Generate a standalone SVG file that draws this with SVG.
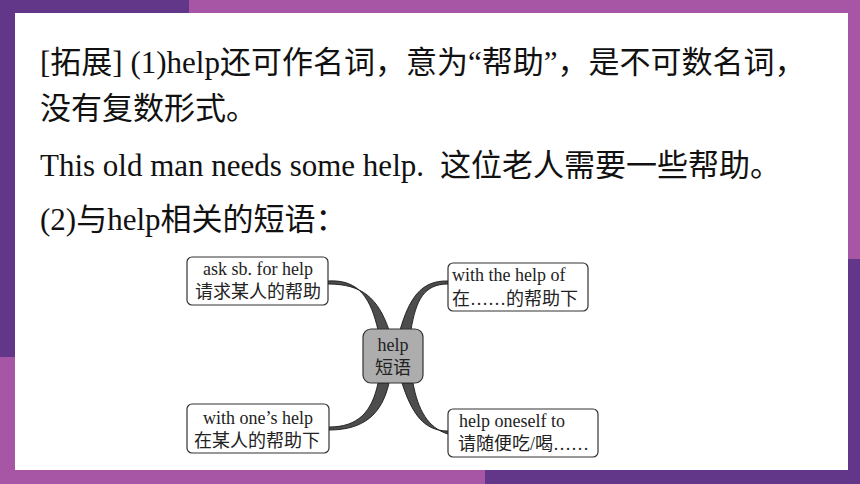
<svg xmlns="http://www.w3.org/2000/svg" width="860" height="484" viewBox="0 0 860 484">
<style>
.main{font-family:"Liberation Serif","Noto Sans CJK SC",serif;font-size:31px;fill:#111}
.box{fill:#fff;stroke:#333;stroke-width:1.2}
.lbl{font-family:"Liberation Serif","Noto Sans CJK SC",serif;font-size:18px;fill:#222}
.br{fill:#4d4d4d;stroke:#1a1a1a;stroke-width:0.9}
</style>
<rect x="0" y="0" width="860" height="484" fill="#fff"/>
<g id="frame">
<rect x="0" y="0" width="189" height="13" fill="#62378a"/>
<rect x="189" y="0" width="671" height="13" fill="#a756a6"/>
<rect x="0" y="0" width="15" height="357" fill="#62378a"/>
<rect x="0" y="357" width="15" height="127" fill="#a756a6"/>
<rect x="848" y="0" width="12" height="259" fill="#a756a6"/>
<rect x="848" y="259" width="12" height="225" fill="#62378a"/>
<rect x="0" y="470" width="485" height="14" fill="#a756a6"/>
<rect x="485" y="470" width="375" height="14" fill="#62378a"/>
</g>
<g id="text">
<text class="main" x="40" y="73">[拓展] (1)help还可作名词，意为“帮助”，是不可数名词，</text>
<text class="main" x="40" y="119">没有复数形式。</text>
<text class="main" x="40" y="176">This old man needs some help.</text>
<text class="main" x="440" y="176">这位老人需要一些帮助。</text>
<text class="main" x="40" y="230">(2)与help相关的短语：</text>
</g>
<g id="connectors">
<path class="br" d="M328,281 C360,279 371,300 378,330 L389,330 C378,298 362,284 328,284 Z"/>
<path class="br" d="M448,281 C420,280 409,300 400,330 L411,330 C416,300 424,284 448,284 Z"/>
<path class="br" d="M329,427 C358,427 372,412 378,383 L389,383 C382,414 364,430 329,430 Z"/>
<path class="br" d="M448,431 C424,431 412,414 402,383 L413,383 C418,410 428,428 448,434 Z"/>
</g>
<g id="center">
<rect x="363" y="329" width="60" height="54" rx="8" fill="#adadad" stroke="#333" stroke-width="1.2"/>
<text class="lbl" x="393" y="351" text-anchor="middle">help</text>
<text class="lbl" x="393" y="374" text-anchor="middle">短语</text>
</g>
<g id="n1">
<rect class="box" x="187" y="257" width="141" height="48" rx="5"/>
<text class="lbl" x="258" y="275" text-anchor="middle">ask sb. for help</text>
<text class="lbl" x="258" y="298" text-anchor="middle">请求某人的帮助</text>
</g>
<g id="n2">
<rect class="box" x="448" y="263" width="140" height="48" rx="5"/>
<text class="lbl" x="452" y="281">with the help of</text>
<text class="lbl" x="452" y="305">在……的帮助下</text>
</g>
<g id="n3">
<rect class="box" x="187" y="404" width="142" height="49" rx="5"/>
<text class="lbl" x="258" y="424" text-anchor="middle">with one’s help</text>
<text class="lbl" x="257" y="447" text-anchor="middle">在某人的帮助下</text>
</g>
<g id="n4">
<rect class="box" x="448" y="409" width="150" height="48" rx="5"/>
<text class="lbl" x="459" y="427">help oneself to</text>
<text class="lbl" x="458" y="450">请随便吃/喝……</text>
</g>
</svg>
